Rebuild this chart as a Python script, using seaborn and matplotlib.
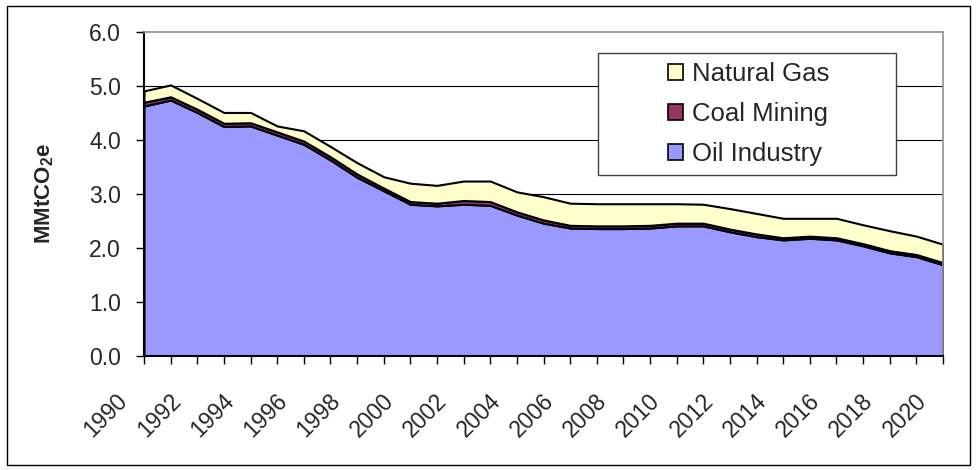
import numpy as np
import pandas as pd
import matplotlib.pyplot as plt
import matplotlib.transforms as mtransforms
from matplotlib.patches import Rectangle, Patch
import seaborn as sns

years = list(range(1990, 2021))
oil_industry = [4.63, 4.74, 4.51, 4.25, 4.26, 4.09, 3.92, 3.63, 3.31, 3.06,
                2.81, 2.78, 2.81, 2.79, 2.61, 2.46, 2.37, 2.36, 2.36, 2.37,
                2.41, 2.41, 2.30, 2.21, 2.15, 2.18, 2.15, 2.04, 1.91, 1.84, 1.69]
coal_mining = [0.07, 0.06, 0.06, 0.06, 0.06, 0.06, 0.06, 0.06, 0.06, 0.05,
               0.05, 0.05, 0.07, 0.07, 0.06, 0.06, 0.05, 0.05, 0.05, 0.05,
               0.05, 0.05, 0.05, 0.05, 0.04, 0.04, 0.04, 0.04, 0.04, 0.04, 0.04]
natural_gas = [0.21, 0.22, 0.20, 0.20, 0.19, 0.11, 0.19, 0.19, 0.21, 0.21,
               0.34, 0.33, 0.36, 0.38, 0.37, 0.43, 0.41, 0.41, 0.41, 0.40,
               0.36, 0.35, 0.38, 0.38, 0.36, 0.33, 0.36, 0.35, 0.37, 0.34, 0.34]
series = ["Oil Industry", "Coal Mining", "Natural Gas"]
colors = ["#9999FF", "#993366", "#FFFFCC"]
y_ticks = [0, 1, 2, 3, 4, 5, 6]

df = pd.DataFrame({"year": years, "Oil Industry": oil_industry,
                   "Coal Mining": coal_mining, "Natural Gas": natural_gas})

sns.set_theme(style="white")
plt.rcParams['font.family'] = ['Liberation Sans', 'DejaVu Sans']
plt.rcParams['mathtext.fontset'] = 'custom'
plt.rcParams['mathtext.bf'] = 'Liberation Sans:bold'
plt.rcParams['mathtext.rm'] = 'Liberation Sans'

fig = plt.figure(figsize=(9.77, 4.70), dpi=100)
ax = fig.add_axes([144 / 977, 1 - 356 / 470, 799 / 977, 324 / 470])

ax.stackplot(df["year"], df[series[0]], df[series[1]], df[series[2]],
             colors=colors, edgecolor="black", linewidth=1.5, zorder=2)

ax.set_xlim(years[0], years[-1])
ax.set_ylim(y_ticks[0], y_ticks[-1])
ax.set_yticks(y_ticks)
ax.set_yticklabels([f"{v:.1f}" for v in y_ticks], fontsize=16.5)
ax.set_xticks(years)
ax.set_xticklabels([str(y) if y % 2 == 0 else "" for y in years],
                   fontsize=16.5, rotation=45, ha="right", va="top")
ax.tick_params(axis="both", direction="out", length=6, width=1, color="black",
               bottom=True, left=True)
ax.tick_params(axis="y", pad=10.5)
ax.tick_params(axis="x", pad=18)
shift = mtransforms.ScaledTranslation(-12 / 100, 0, fig.dpi_scale_trans)
for lab in ax.get_xticklabels():
    lab.set_transform(lab.get_transform() + shift)

ax.set_axisbelow(True)
ax.yaxis.grid(True, color="black", linewidth=0.8)
ax.get_ygridlines()[-1].set_visible(False)
ax.xaxis.grid(False)

for side in ["left", "bottom"]:
    ax.spines[side].set_color("black")
    ax.spines[side].set_linewidth(1.5)
for side in ["top", "right"]:
    ax.spines[side].set_color("#909090")
    ax.spines[side].set_linewidth(1.2)

ax.set_ylabel(r"MMtCO$_\mathbf{2}$e", fontsize=16, fontweight="bold")
ax.yaxis.set_label_coords((56 - 144) / 799, 0.5)

# legend box
ax.add_patch(Rectangle((0.568, 0.559), 0.373, 0.377, transform=ax.transAxes,
                       facecolor="white", edgecolor="#404040", linewidth=1,
                       zorder=5))
handles = [Patch(facecolor=colors[i], edgecolor="black", linewidth=1.2, label=series[i])
           for i in [2, 1, 0]]
leg = ax.legend(handles=handles, loc="center", bbox_to_anchor=(0.757, 0.747),
                frameon=False, fontsize=18.5, handlelength=0.6, handleheight=0.6,
                handletextpad=0.35, labelspacing=0.62, borderpad=0)
leg.set_zorder(6)

fig.add_artist(Rectangle((7 / 977, 1 - 465 / 470), 963 / 977, 459 / 470,
                         transform=fig.transFigure, fill=False,
                         edgecolor="black", linewidth=1))

plt.savefig("out.png", dpi=100)
